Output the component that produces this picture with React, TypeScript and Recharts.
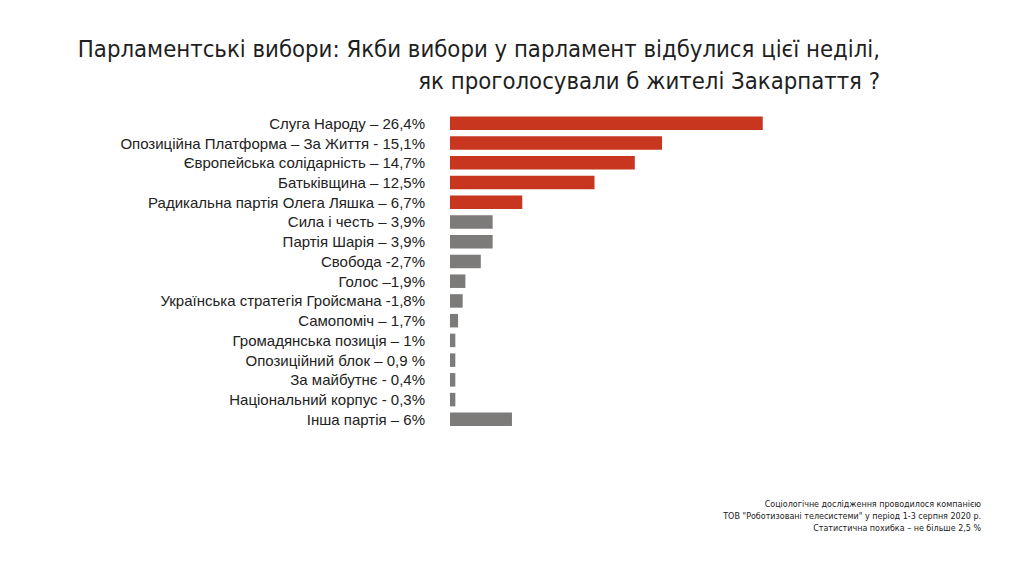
import React from 'react';
import { BarChart, Bar, XAxis, YAxis, Cell } from 'recharts';

// Category labels (as printed in the chart)
const labels: string[] = [
  'Слуга Народу – 26,4%',
  'Опозиційна Платформа – За Життя - 15,1%',
  'Європейська солідарність – 14,7%',
  'Батьківщина – 12,5%',
  'Радикальна партія Олега Ляшка – 6,7%',
  'Сила і честь – 3,9%',
  'Партія Шарія – 3,9%',
  'Свобода -2,7%',
  'Голос –1,9%',
  'Українська стратегія Гройсмана -1,8%',
  'Самопоміч – 1,7%',
  'Громадянська позиція – 1%',
  'Опозиційний блок – 0,9 %',
  'За майбутнє -  0,4%',
  'Національний корпус - 0,3%',
  'Інша партія – 6%',
];

// Bar lengths as drawn in the picture (in % units, scaled so the first bar = 26.4)
const barValues: number[] = [
  26.4, 17.9, 15.6, 12.2, 6.1, 3.6, 3.6, 2.6, 1.3, 1.07, 0.68, 0.45, 0.45, 0.45, 0.45, 5.23,
];

// Highlighted (red) bars: first five
const highlighted: boolean[] = [
  true, true, true, true, true, false, false, false, false, false, false, false, false, false, false, false,
];

const titleLines: string[] = [
  'Парламентські вибори: Якби вибори у парламент відбулися цієї неділі,',
  'як проголосували б жителі Закарпаття ?',
];

const noteLines: string[] = [
  'Соціологічне дослідження проводилося компанією ',
  'ТОВ "Роботизовані телесистеми" у період 1-3 серпня 2020 р.',
  'Статистична похибка – не більше 2,5 %',
];

const data = labels.map((label, i) => ({ label, value: barValues[i], hi: highlighted[i] }));

const RED = '#C8361F';
const GRAY = '#7D7A7A';
const TITLE_FONT = "'Liberation Sans Narrow', 'DejaVu Sans Condensed', Arial, sans-serif";

export default function App() {
  return (
    <div style={{ position: 'absolute', left: 0, top: 0, width: 1024, height: 576, background: '#fff', overflow: 'hidden' }}>
      <svg width={1024} height={576} style={{ position: 'absolute', left: 0, top: 0 }}>
        <text x={880} y={57} textAnchor="end" fontSize={23.7} fill="#1e1e1e" fontFamily={TITLE_FONT}>{titleLines[0]}</text>
        <text x={880} y={89} textAnchor="end" fontSize={23.7} fill="#1e1e1e" fontFamily={TITLE_FONT}>{titleLines[1]}</text>
        {noteLines.map((t, i) => (
          <text key={i} x={981} y={507 + i * 12} textAnchor="end" fontSize={8} fill="#222"
            fontFamily="'DejaVu Sans', Verdana, sans-serif">{t}</text>
        ))}
      </svg>
      <div style={{ position: 'absolute', left: 0, top: 0 }}>
        <BarChart
          width={1024}
          height={576}
          data={data}
          layout="vertical"
          margin={{ top: 113.6, bottom: 146.7, left: 0, right: 218.6 }}
          barCategoryGap={0}
        >
          <XAxis type="number" domain={[0, 30]} hide />
          <YAxis
            type="category"
            dataKey="label"
            width={450}
            axisLine={false}
            tickLine={false}
            tickSize={0}
            tickMargin={25}
            interval={0}
            tick={{ fill: '#222', fontSize: 15, fontFamily: "'Liberation Sans', Arial, sans-serif" }}
          />
          <Bar dataKey="value" barSize={13.5} isAnimationActive={false}>
            {data.map((d, i) => (
              <Cell key={i} fill={d.hi ? RED : GRAY} />
            ))}
          </Bar>
        </BarChart>
      </div>
    </div>
  );
}
